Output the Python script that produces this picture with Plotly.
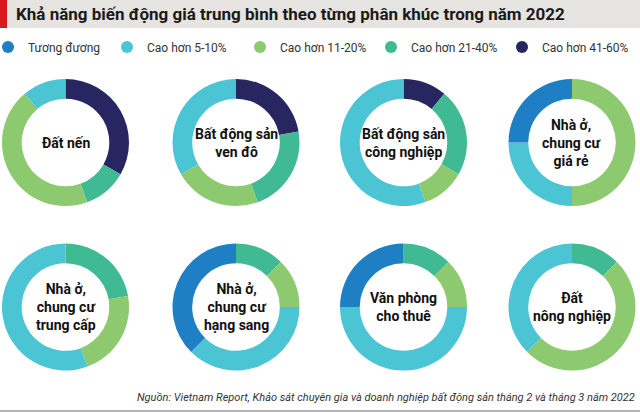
import plotly.graph_objects as go

# categories (legend order)
categories = ["Tương đương", "Cao hơn 5-10%", "Cao hơn 11-20%", "Cao hơn 21-40%", "Cao hơn 41-60%"]
colors = ["#1f7fc4", "#4bc4d4", "#8dc96e", "#3fba93", "#272660"]

# segments, top row then bottom row
segments = ["Đất nến", "Bất động sản<br>ven đô", "Bất động sản<br>công nghiệp", "Nhà ở,<br>chung cư<br>giá rẻ",
            "Nhà ở,<br>chung cư<br>trung cấp", "Nhà ở,<br>chung cư<br>hạng sang", "Văn phòng<br>cho thuê",
            "Đất<br>nông nghiệp"]

# share of answers (%) per category, same order as categories
dat_nen = [0, 11.1, 44.4, 11.1, 33.3]
ven_do = [0, 33.3, 22.2, 22.2, 22.2]
cong_nghiep = [0, 55.6, 11.1, 22.2, 11.1]
gia_re = [25, 25, 50, 0, 0]
trung_cap = [0, 55.6, 22.2, 22.2, 0]
hang_sang = [37.5, 37.5, 12.5, 12.5, 0]
van_phong = [25, 50, 12.5, 12.5, 0]
nong_nghiep = [0, 37.5, 50, 12.5, 0]

values = [dat_nen, ven_do, cong_nghiep, gia_re, trung_cap, hang_sang, van_phong, nong_nghiep]

W, H = 640, 412
col_x = [65.5, 236, 403.5, 572]   # donut centres, px
row_y = [142.5, 307]
R = 63.5

fig = go.Figure()
annotations = []
for i, (name, vals) in enumerate(zip(segments, values)):
    cx = col_x[i % 4]
    cy = row_y[i // 4]
    dom_x = [(cx - R) / W, (cx + R) / W]
    dom_y = [(H - cy - R) / H, (H - cy + R) / H]
    # highest band first, drawn clockwise from 12 o'clock
    fig.add_trace(go.Pie(
        labels=categories[::-1], values=vals[::-1], hole=0.69, sort=False,
        direction="clockwise", rotation=0,
        marker=dict(colors=colors[::-1], line=dict(width=0)),
        textinfo="none", showlegend=False,
        domain=dict(x=dom_x, y=dom_y),
    ))
    annotations.append(dict(
        text="<b>" + name + "</b>", x=sum(dom_x) / 2, y=sum(dom_y) / 2, xref="paper", yref="paper",
        showarrow=False, xanchor="center", yanchor="middle",
        font=dict(family="Roboto, sans-serif", size=14, color="#111111"),
    ))

# legend entries with round markers
widths = [86, 100, 98, 98, 88]
for cat, col, w in zip(categories, colors, widths):
    fig.add_trace(go.Scatter(
        x=[None], y=[None], mode="markers", name=cat,
        marker=dict(symbol="circle", size=12, color=col),
        legendwidth=w,
    ))

annotations.append(dict(
    text="<b>Khả năng biến động giá trung bình theo từng phân khúc trong năm 2022</b>",
    x=14 / W, y=1 - 14 / H, xref="paper", yref="paper", xanchor="left", yanchor="middle",
    showarrow=False, font=dict(family="Roboto, sans-serif", size=17, color="#1a1a1a"),
))
annotations.append(dict(
    text="<i>Nguồn: Vietnam Report, Khảo sát chuyên gia và doanh nghiệp bất động sản tháng 2 và tháng 3 năm 2022</i>",
    x=637 / W, y=1 - 397 / H, xref="paper", yref="paper", xanchor="right", yanchor="middle",
    showarrow=False, font=dict(family="Roboto, sans-serif", size=11, color="#333333"),
))

fig.update_layout(
    width=W, height=H,
    margin=dict(l=0, r=0, t=0, b=0, autoexpand=False),
    paper_bgcolor="white", plot_bgcolor="white",
    xaxis=dict(visible=False), yaxis=dict(visible=False),
    annotations=annotations,
    shapes=[
        dict(type="rect", xref="paper", yref="paper", x0=0, x1=1, y0=1 - 28 / H, y1=1,
             fillcolor="#e6e4e1", line=dict(width=0), layer="below"),
        dict(type="rect", xref="paper", yref="paper", x0=0, x1=7 / W, y0=1 - 28 / H, y1=1,
             fillcolor="#d71920", line=dict(width=0), layer="below"),
        dict(type="line", xref="paper", yref="paper", x0=0, x1=1, y0=1 / H, y1=1 / H,
             line=dict(color="#9a9a9a", width=1.5)),
    ],
    legend=dict(
        orientation="h", x=0, xanchor="left", indentation=-12,
        y=1 - 47 / H, yanchor="middle",
        font=dict(family="Roboto, sans-serif", size=12, color="#333333"),
        itemwidth=30, bgcolor="rgba(0,0,0,0)",
    ),
)

# drop the page's default body margin so the figure sits at the window corner
fig.write_html("out.html", config={"displayModeBar": False},
               post_script="document.body.style.margin='0';")
